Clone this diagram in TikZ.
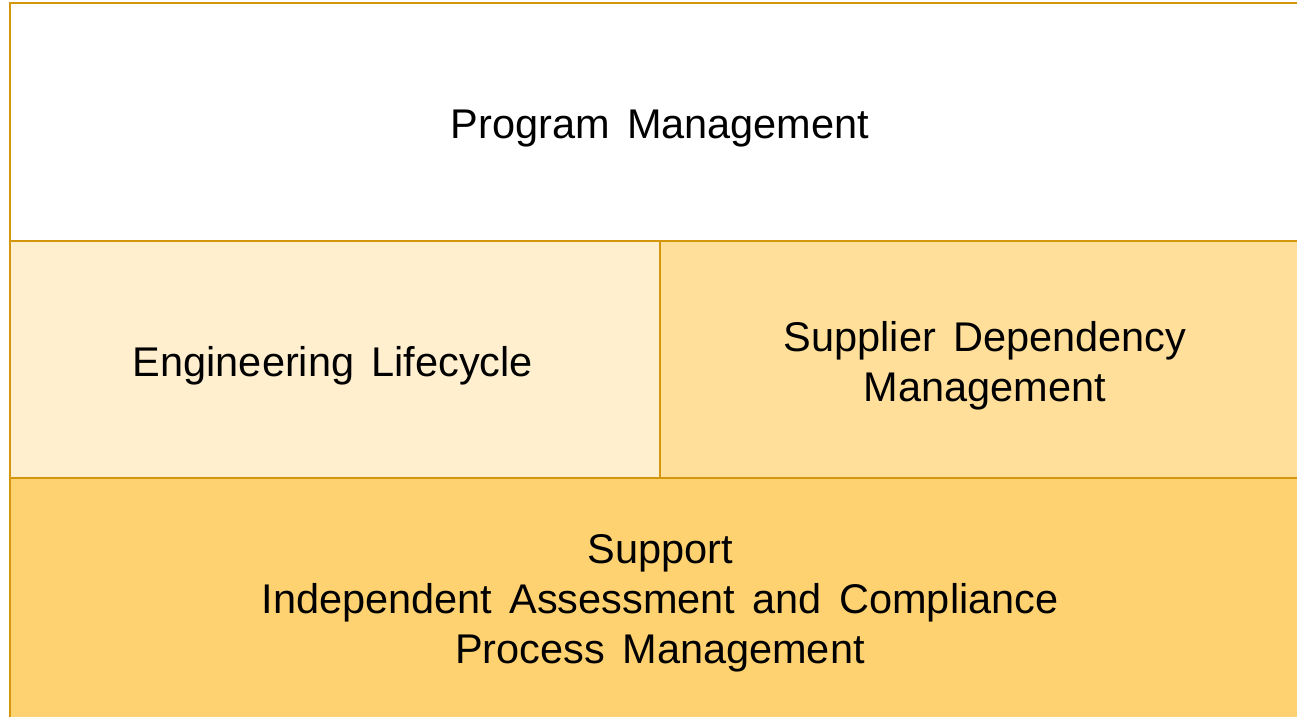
\documentclass[tikz,border=0pt]{standalone}
\usepackage{fontspec}
\setmainfont[WordSpace=1.5]{Liberation Sans}
\definecolor{bord}{HTML}{D4960C}
\definecolor{fillA}{HTML}{FFFFFF}
\definecolor{fillB}{HTML}{FFEFCF}
\definecolor{fillC}{HTML}{FFDF9A}
\definecolor{fillD}{HTML}{FED270}
\begin{document}
\begin{tikzpicture}[x=1pt,y=-1pt,
  panel/.style={draw=bord,line width=2.2pt},
  lbl/.style={align=center,font=\fontsize{41.5}{50}\selectfont,text=black,inner sep=0pt}]
\useasboundingbox (0,0) rectangle (1297,716);
\clip (0,0) rectangle (1297,716);
\fill[white] (0,0) rectangle (1297,716);
\path[panel,fill=fillA] (10,3) rectangle (1310,241);
\path[panel,fill=fillB] (10,241) rectangle (660,478);
\path[panel,fill=fillC] (660,241) rectangle (1310,478);
\path[panel,fill=fillD] (10,478) rectangle (1310,720);
\node[lbl] (pm) at (660,129) {Program Management};
\node[lbl] (el) at (333,366) {Engineering Lifecycle};
\node[lbl] (sd) at (985,366) {Supplier Dependency\\Management};
\node[lbl] (sp) at (660,603) {Support\\Independent Assessment and Compliance\\Process Management};
\end{tikzpicture}
\end{document}
